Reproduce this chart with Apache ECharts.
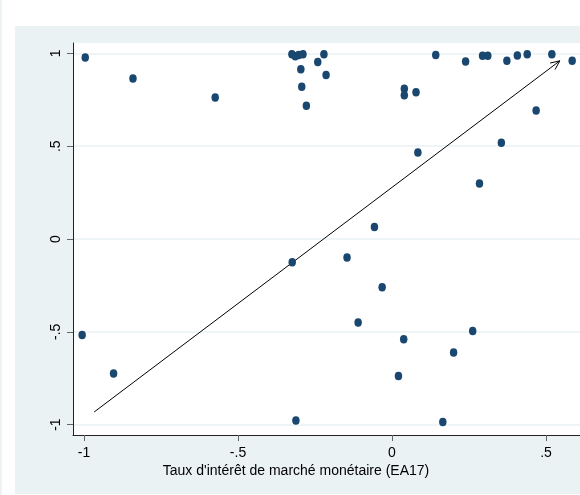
<!DOCTYPE html>
<html><head><meta charset="utf-8">
<script src="https://cdn.jsdelivr.net/npm/echarts@6/dist/echarts.min.js"></script>
<style>html,body{margin:0;padding:0;background:#fff}#c{width:580px;height:495px}</style>
</head><body><div id="c"></div>
<script>
const xValues = [-0.996,-0.841,-0.574,-1.006,-0.904,-0.325,-0.314,-0.303,-0.289,-0.221,-0.241,-0.296,-0.214,-0.293,-0.278,-0.324,-0.146,-0.057,-0.110,-0.032,0.038,0.021,-0.312,0.165,0.040,0.040,0.078,0.084,0.142,0.239,0.294,0.311,0.373,0.407,0.439,0.519,0.585,0.468,0.355,0.284,0.262,0.200];
const yValues = [0.978,0.865,0.763,-0.517,-0.725,0.995,0.985,0.992,0.995,0.995,0.953,0.915,0.883,0.820,0.718,-0.125,-0.100,0.065,-0.450,-0.260,-0.540,-0.738,-0.978,-0.986,0.809,0.774,0.791,0.466,0.992,0.957,0.987,0.987,0.960,0.989,0.996,0.995,0.960,0.693,0.518,0.299,-0.495,-0.612];
const xTicks = [-1,-0.5,0,0.5];
const yTicks = [-1,-0.5,0,0.5,1];
const arrowFrom = [-0.967,-0.932];
const arrowTo = [0.545,0.960];
const xTitle = "Taux d'intérêt de marché monétaire (EA17)";

const fmt = v => { let s = String(v); return s.replace(/^0\./,'.').replace(/^-0\./,'-.'); };
const FONT = "'Liberation Sans', Arial, sans-serif";
const chart = echarts.init(document.getElementById('c'), null, {renderer:'canvas'});
const pts = xValues.map((x,i)=>[x,yValues[i]]);
chart.setOption({
  animation:false,
  backgroundColor:'#fff',
  graphic:[
    {type:'rect', z:-10, shape:{x:0,y:0,width:2,height:495}, style:{fill:'#edf3f5'}},
    {type:'rect', z:-10, shape:{x:15,y:26,width:565,height:468}, style:{fill:'#eaf2f3'}},
    {type:'text', x:296, y:471, z:10, style:{text:xTitle, align:'center', verticalAlign:'middle', textAlign:'center', textVerticalAlign:'middle', font:'14px '+FONT, fill:'#000'}}
  ],
  grid:{left:73, top:43, right:0, bottom:60, show:true, backgroundColor:'#fff', borderWidth:0, containLabel:false},
  xAxis:{type:'value', min:-1.0357, max:0.6104,
    axisLine:{show:true, onZero:false, lineStyle:{color:'#222', width:1}},
    axisTick:{show:true, length:6, customValues:xTicks, lineStyle:{color:'#666'}},
    axisLabel:{customValues:xTicks, formatter:fmt, margin:11, color:'#000', fontSize:14, fontFamily:FONT, showMinLabel:true, showMaxLabel:true},
    splitLine:{show:false}},
  yAxis:{type:'value', min:-1.056, max:1.056,
    axisLine:{show:true, onZero:false, lineStyle:{color:'#222', width:1}},
    axisTick:{show:true, length:6, customValues:yTicks, lineStyle:{color:'#666'}},
    axisLabel:{customValues:yTicks, formatter:fmt, rotate:90, margin:10, color:'#000', fontSize:14, fontFamily:FONT, showMinLabel:true, showMaxLabel:true},
    splitLine:{show:true, lineStyle:{color:'#eaf2f3', width:1.5}}},
  series:[
    {type:'custom', z:1, data:[[arrowFrom[0],arrowFrom[1],arrowTo[0],arrowTo[1]]],
      encode:{x:[0,2], y:[1,3]},
      renderItem:function(params, api){
        const p0 = api.coord([api.value(0), api.value(1)]);
        const p1 = api.coord([api.value(2), api.value(3)]);
        const ang = Math.atan2(p1[1]-p0[1], p1[0]-p0[0]);
        const L = 10, a = 0.42;
        const h1 = [p1[0]-L*Math.cos(ang-a), p1[1]-L*Math.sin(ang-a)];
        const h2 = [p1[0]-L*Math.cos(ang+a), p1[1]-L*Math.sin(ang+a)];
        return {type:'group', children:[
          {type:'line', shape:{x1:p0[0],y1:p0[1],x2:p1[0],y2:p1[1]}, style:{stroke:'#000', lineWidth:1}},
          {type:'polyline', shape:{points:[h1,p1,h2]}, style:{stroke:'#000', lineWidth:1, fill:null}}
        ]};
      }},
    {type:'scatter', z:3, data:pts, symbol:'circle', symbolSize:[7.5,8.5], itemStyle:{color:'#1a476f', opacity:1}}
  ]
});
</script></body></html>
